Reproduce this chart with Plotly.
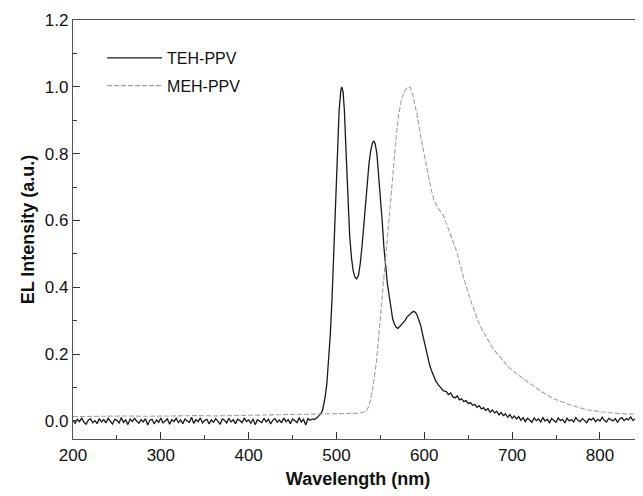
import plotly.graph_objects as go

# TEH-PPV electroluminescence spectrum
# flat noisy baseline, sampled every 2.5 nm from 200 to 475 nm
teh_base_wl = [200 + 2.5 * i for i in range(111)]
teh_base = [
    0.002, -0.007, 0.005, -0.002, 0.009, -0.004, -0.010, 0.003, 0.006, -0.005, 0.001, -0.008, 0.007, -0.003, 0.004, -0.006,
    0.008, -0.001, -0.009, 0.005, 0.002, -0.006, 0.010, -0.004, 0.003, -0.011, 0.006, -0.002, 0.008, 0.000, -0.007, 0.004,
    -0.003, 0.007, -0.012, 0.002, 0.005, -0.009, 0.003, -0.004, 0.009, -0.006, 0.001, 0.006, -0.010, 0.004, -0.002, 0.008,
    -0.005, 0.003, -0.008, 0.006, 0.000, -0.004, 0.011, -0.007, 0.004, -0.002, 0.009, -0.006, 0.002, 0.005, -0.009, 0.003,
    -0.004, 0.007, -0.001, -0.010, 0.006, 0.002, -0.006, 0.008, -0.003, 0.004, -0.008, 0.005, 0.001, -0.005, 0.009, -0.002,
    0.003, -0.007, 0.006, -0.011, 0.004, 0.000, -0.005, 0.008, -0.003, 0.005, -0.009, 0.002, 0.007, -0.004, 0.003, -0.006,
    0.009, -0.002, 0.004, -0.008, 0.006, 0.001, -0.005, 0.010, -0.003, 0.005, -0.012, 0.007, 0.002, 0.006, 0.004,
]
# emission band: two sharp vibronic peaks and a smaller third one
teh_band_wl = [
    478, 481, 484, 487, 489, 491, 493, 495, 497, 499, 501, 503, 505, 506, 507.5, 509,
    511, 513, 515, 517, 519, 521, 523, 525, 527, 529, 531, 533, 535, 537, 539, 541,
    542.5, 544, 546, 548, 550, 552, 554, 556, 558, 560, 562, 564, 566, 568, 570, 572,
    574, 576, 578, 580, 582, 584, 586, 588, 590, 592, 594, 596, 598, 600, 602, 604,
    606, 608, 610, 613, 616, 619, 622,
]
teh_band = [
    0.010, 0.018, 0.030, 0.070, 0.110, 0.180, 0.260, 0.370, 0.500, 0.650, 0.800, 0.930, 0.990, 1.000, 0.985, 0.930,
    0.800, 0.660, 0.555, 0.490, 0.450, 0.430, 0.425, 0.435, 0.470, 0.520, 0.590, 0.660, 0.720, 0.770, 0.810, 0.832,
    0.838, 0.830, 0.800, 0.740, 0.670, 0.600, 0.520, 0.455, 0.410, 0.375, 0.335, 0.305, 0.290, 0.280, 0.277, 0.283,
    0.290, 0.297, 0.300, 0.310, 0.316, 0.320, 0.325, 0.328, 0.325, 0.315, 0.300, 0.285, 0.260, 0.235, 0.208, 0.185,
    0.168, 0.152, 0.138, 0.120, 0.108, 0.100, 0.090,
]
# noisy red tail, every 2.5 nm from 625 to 850 nm
teh_tail_wl = [625 + 2.5 * i for i in range(91)]
teh_tail = [
    0.088, 0.079, 0.084, 0.072, 0.069, 0.075, 0.063, 0.066, 0.058, 0.061, 0.052, 0.055, 0.047, 0.050, 0.041, 0.046,
    0.036, 0.040, 0.031, 0.037, 0.026, 0.033, 0.024, 0.029, 0.018, 0.025, 0.016, 0.021, 0.011, 0.019, 0.008, 0.015,
    0.006, 0.013, 0.002, 0.010, -0.002, 0.008, 0.003, -0.004, 0.009, 0.001, 0.006, -0.003, 0.010, 0.000, 0.005, -0.005,
    0.007, 0.002, -0.004, 0.009, 0.001, 0.005, -0.006, 0.008, 0.000, 0.004, -0.003, 0.010, 0.002, -0.002, 0.007, 0.001,
    -0.005, 0.006, 0.003, 0.009, -0.002, 0.005, 0.000, 0.011, 0.002, -0.003, 0.008, 0.004, 0.000, 0.007, -0.004, 0.006,
    0.010, 0.001, 0.007, 0.003, 0.012, 0.002, 0.006, 0.013, 0.004, 0.009, 0.005,
]

# MEH-PPV electroluminescence spectrum
meh_wavelength = [
    200, 220, 240, 260, 280, 300, 320, 340, 360, 380, 400, 420, 440, 460, 480, 500,
    515, 525, 530, 534, 537, 540, 543, 545.5, 548, 551, 554, 557, 560, 562.5, 565, 568,
    571, 574, 577, 581, 584, 587, 590, 593, 596, 599, 602, 605, 608, 611, 616, 622,
    629, 637, 644, 652, 663, 678, 697, 716, 735, 746, 765, 784, 803, 822, 850,
]
meh_intensity = [
    0.013, 0.014, 0.013, 0.015, 0.014, 0.015, 0.014, 0.016, 0.015, 0.016, 0.016, 0.017, 0.017, 0.018, 0.019, 0.020,
    0.021, 0.023, 0.026, 0.030, 0.045, 0.078, 0.130, 0.178, 0.250, 0.337, 0.420, 0.506, 0.590, 0.674, 0.760, 0.853,
    0.920, 0.962, 0.985, 1.000, 0.998, 0.975, 0.940, 0.900, 0.850, 0.810, 0.765, 0.724, 0.690, 0.660, 0.635, 0.614,
    0.565, 0.506, 0.436, 0.366, 0.287, 0.217, 0.158, 0.120, 0.085, 0.068, 0.049, 0.034, 0.027, 0.022, 0.019,
]

x_ticks = [200, 300, 400, 500, 600, 700, 800]
y_ticks = [0.0, 0.2, 0.4, 0.6, 0.8, 1.0, 1.2]

teh_wavelength = teh_base_wl + teh_band_wl + teh_tail_wl
teh_intensity = teh_base + teh_band + teh_tail

fig = go.Figure()
fig.add_trace(go.Scatter(
    x=teh_wavelength, y=teh_intensity, mode="lines", name="TEH-PPV",
    legendgroup="a", line=dict(color="#1a1a1a", width=1.3),
))
fig.add_trace(go.Scatter(
    x=meh_wavelength, y=meh_intensity, mode="lines", name="MEH-PPV",
    legendgroup="b", line=dict(color="#a0a0a0", width=1.1, dash="5px,2px"),
))

font_family = "Liberation Sans, Arial, sans-serif"
axis_font = dict(family=font_family, size=17, color="#111")
title_font = dict(family=font_family, size=18, color="#111")

# the page has an 8px body margin, so the figure is a bit smaller than the window
fig.update_layout(
    width=635, height=488,
    margin=dict(l=65, r=0, t=12, b=57),
    paper_bgcolor="white", plot_bgcolor="white",
    showlegend=True,
    legend=dict(
        x=0.051, y=0.95, xanchor="left", yanchor="top",
        bgcolor="rgba(0,0,0,0)", font=dict(family=font_family, size=16, color="#111"),
        tracegroupgap=4, traceorder="grouped", itemwidth=55,
    ),
    xaxis=dict(
        range=[200, 849], tickvals=x_ticks, ticks="inside", ticklen=7, tickwidth=1.2,
        tickcolor="#333", showline=True, linecolor="#555", linewidth=1.4, mirror=True,
        showgrid=False, zeroline=False, tickfont=axis_font, automargin=False,
        minor=dict(dtick=50, tick0=200, ticks="inside", ticklen=4, tickcolor="#333"),
        title=dict(text="<b>Wavelength (nm)</b>", font=title_font, standoff=8),
    ),
    yaxis=dict(
        range=[-0.054, 1.2], tickvals=y_ticks, tickformat=".1f", ticks="inside", ticklen=7,
        tickwidth=1.2, tickcolor="#333", showline=True, linecolor="#555", linewidth=1.4,
        showgrid=False, zeroline=False, tickfont=axis_font, automargin=False,
        minor=dict(dtick=0.1, tick0=0, ticks="inside", ticklen=4, tickcolor="#333"),
        title=dict(text="<b>EL Intensity (a.u.)</b>", font=title_font, standoff=5),
    ),
)

fig.write_html("out.html")
